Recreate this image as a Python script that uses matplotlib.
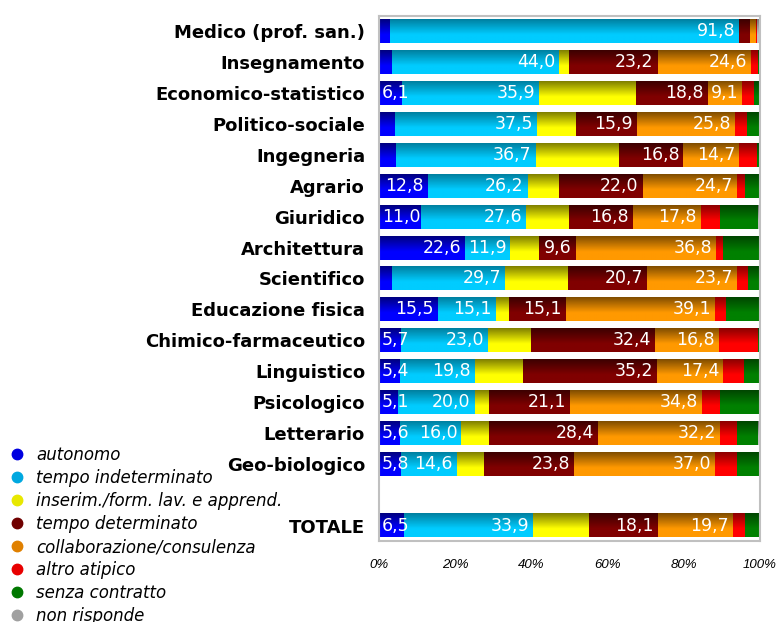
import numpy as np
import matplotlib
matplotlib.use("Agg")
import matplotlib.pyplot as plt
from matplotlib.lines import Line2D

# Dati (valori %)
categories = [
    "Medico (prof. san.)", "Insegnamento", "Economico-statistico", "Politico-sociale",
    "Ingegneria", "Agrario", "Giuridico", "Architettura", "Scientifico",
    "Educazione fisica", "Chimico-farmaceutico", "Linguistico", "Psicologico",
    "Letterario", "Geo-biologico", "TOTALE",
]
autonomo = [2.8, 3.3, 6.1, 4.1, 4.4, 12.8, 11.0, 22.6, 3.5, 15.5, 5.7, 5.4, 5.1, 5.6, 5.8, 6.5]
tempo_indeterminato = [91.8, 44.0, 35.9, 37.5, 36.7, 26.2, 27.6, 11.9, 29.7, 15.1, 23.0, 19.8, 20.0, 16.0, 14.6, 33.9]
inserimento = [0.0, 2.6, 25.5, 10.1, 22.0, 8.2, 11.3, 7.6, 16.4, 3.4, 11.3, 12.6, 3.9, 7.4, 7.1, 14.7]
tempo_determinato = [2.8, 23.2, 18.8, 15.9, 16.8, 22.0, 16.8, 9.6, 20.7, 15.1, 32.4, 35.2, 21.1, 28.4, 23.8, 18.1]
collaborazione = [1.5, 24.6, 9.1, 25.8, 14.7, 24.7, 17.8, 36.8, 23.7, 39.1, 16.8, 17.4, 34.8, 32.2, 37.0, 19.7]
altro_atipico = [0.2, 1.7, 3.0, 3.3, 4.7, 2.2, 5.0, 1.9, 2.9, 2.9, 10.2, 5.3, 4.7, 4.4, 5.7, 3.2]
senza_contratto = [0.1, 0.6, 1.6, 3.2, 0.6, 3.9, 10.1, 9.6, 2.8, 8.9, 0.6, 4.3, 10.4, 5.5, 6.0, 3.9]
non_risponde = [0.8, 0.0, 0.0, 0.1, 0.1, 0.0, 0.4, 0.0, 0.3, 0.0, 0.0, 0.0, 0.0, 0.5, 0.0, 0.0]

# (etichetta, valori, colore chiaro, colore scuro, mostra valori)
series = [
    ("autonomo", autonomo, (0, 0, 255), (0, 0, 128), True),
    ("tempo indeterminato", tempo_indeterminato, (0, 204, 255), (0, 128, 160), True),
    ("inserim./form. lav. e apprend.", inserimento, (255, 255, 0), (128, 128, 0), False),
    ("tempo determinato", tempo_determinato, (128, 0, 0), (60, 0, 0), True),
    ("collaborazione/consulenza", collaborazione, (255, 153, 0), (128, 77, 0), True),
    ("altro atipico", altro_atipico, (255, 0, 0), (140, 0, 0), False),
    ("senza contratto", senza_contratto, (0, 128, 0), (0, 70, 0), False),
    ("non risponde", non_risponde, (192, 192, 192), (120, 120, 120), False),
]
legend_colors = ["#0000e0", "#00a8e0", "#e8e800", "#700000", "#e08000", "#e80000", "#007800", "#a0a0a0"]


def gradient(bright, dark, n=40):
    t = np.clip(np.linspace(0, 1, n) / 0.65, 0, 1)[:, None]
    b = np.array(bright) / 255
    d = np.array(dark) / 255
    return (d + (b - d) * t)[:, None, :]


fig = plt.figure(figsize=(7.76, 6.22), dpi=100)
ax = fig.add_axes([379 / 776, 1 - 541 / 622, 381 / 776, 525 / 622])

ypos = np.r_[np.arange(15), 16]
left = np.zeros(len(categories))
labels = []
for name, vals, bright, dark, show in series:
    vals = np.asarray(vals, dtype=float)
    bars = ax.barh(ypos, vals, left=left, height=0.77,
                   color=np.array(bright) / 255, linewidth=0, zorder=1)
    for bar, v in zip(bars, vals):
        if v <= 0:
            continue
        x0, y0 = bar.get_x(), bar.get_y()
        w, h = bar.get_width(), bar.get_height()
        ax.imshow(gradient(bright, dark), extent=(x0, x0 + w, y0 + h, y0),
                  aspect="auto", interpolation="bilinear", zorder=2)
        if show and v >= 5:
            txt = ax.annotate(f"{v:.1f}".replace(".", ","), (x0 + w, y0 + h / 2),
                              xytext=(-4, 0), textcoords="offset pixels",
                              ha="right", va="center", color="white",
                              fontsize=12.5, zorder=3)
            labels.append((txt, x0))
    left += vals

ax.set_xlim(0, 100)
ax.set_ylim(16.5, -0.5)
ax.set_xticks(range(0, 101, 20), [f"{t}%" for t in range(0, 101, 20)],
              fontstyle="italic", family="Liberation Sans", fontsize=9.5)
ax.set_yticks(ypos, categories, fontweight="bold", fontsize=13)
ax.tick_params(axis="y", length=0, pad=10)
ax.tick_params(axis="x", length=0, pad=13)
for sp in ax.spines.values():
    sp.set_color("#c0c0c0")
    sp.set_linewidth(1.5)

# etichette che non entrano nel segmento: allineate all'inizio della barra
fig.canvas.draw()
r = fig.canvas.get_renderer()
for txt, x0 in labels:
    start_px = ax.transData.transform((x0, 0))[0]
    if txt.get_window_extent(r).x0 < start_px + 1:
        txt.xy = (x0, txt.xy[1])
        txt.set_position((3, 0))
        txt.set_ha("left")

handles = [Line2D([], [], marker="o", linestyle="", markersize=7.5,
                  markerfacecolor=c, markeredgecolor=c) for c in legend_colors]
fig.legend(handles, [s[0] for s in series], loc="upper left",
           bbox_to_anchor=(9 / 776, 1 - 446 / 622), frameon=False,
           prop=dict(style="italic", size=12), handlelength=1.0,
           handletextpad=0.65, labelspacing=0.3, borderpad=0, borderaxespad=0)

fig.savefig("out.png", dpi=100)
